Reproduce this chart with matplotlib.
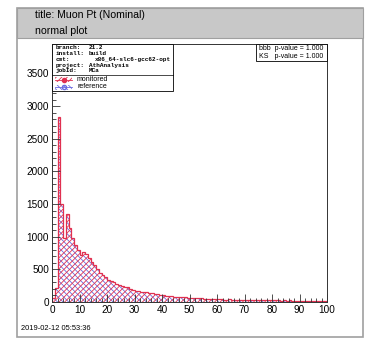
import numpy as np
import matplotlib
matplotlib.use("Agg")
import matplotlib.pyplot as plt
from matplotlib.patches import Rectangle
from matplotlib.lines import Line2D
from matplotlib.ticker import MultipleLocator

# ---- data ----
bin_edges = np.arange(0, 101, 1)
monitored = [60, 220, 2830, 1500, 980, 1350, 1130, 980, 880, 790,
             720, 770, 740, 680, 620, 560, 500, 450, 410, 385,
             340, 320, 300, 275, 258, 245, 235, 225, 200, 185,
             175, 168, 160, 150, 148, 140, 132, 125, 115, 110,
             104, 98, 90, 86, 80, 84, 75, 70, 72, 66,
             62, 68, 60, 55, 58, 50, 48, 46, 50, 42,
             40, 44, 38, 36, 40, 34, 33, 36, 31, 30,
             32, 29, 28, 31, 27, 26, 28, 25, 27, 24,
             26, 23, 25, 22, 24, 21, 23, 22, 20, 22,
             21, 19, 22, 20, 18, 20, 19, 18, 19, 17]
reference = list(monitored)
title_line1 = "title: Muon Pt (Nominal)"
title_line2 = "normal plot"
info_keys = ["branch:", "install:", "cmt:", "project:", "jobId:"]
info_vals = ["21.2", "build", "x86_64-slc6-gcc62-opt", "AthAnalysis", "MCa"]
pvals = ["bbb  p-value = 1.000", "KS   p-value = 1.000"]
legend_labels = ["monitored", "reference"]
timestamp = "2019-02-12 05:53:36"

W, H = 370, 338
fig = plt.figure(figsize=(W / 100, H / 100), dpi=100)
plt.rcParams['hatch.linewidth'] = 0.6
SANS = ["Liberation Sans", "DejaVu Sans"]
MONO = ["Liberation Mono", "DejaVu Sans Mono"]
RED = "#e03050"
BLUE = "#6a6ae0"

def fx(x):
    return x / W

def fy(y):
    return 1 - y / H

# outer canvas frame
fig.patches.append(Rectangle((fx(17), fy(337)), fx(363) - fx(17), fy(8) - fy(337),
                             transform=fig.transFigure, fill=False,
                             edgecolor="#a0a0a0", linewidth=1.2))
# title band
fig.patches.append(Rectangle((fx(17), fy(38)), fx(363) - fx(17), fy(8) - fy(38),
                             transform=fig.transFigure, facecolor="#c8c8c8",
                             edgecolor="#a0a0a0", linewidth=0.8))
fig.text(fx(35), fy(15), title_line1, fontsize=7.6, family=SANS, va="center", ha="left")
fig.text(fx(35), fy(31), title_line2, fontsize=7.6, family=SANS, va="center", ha="left")

# axes
ax_l, ax_r, ax_t, ax_b = 52, 327, 44, 302
ax = fig.add_axes([fx(ax_l), fy(ax_b), fx(ax_r) - fx(ax_l), fy(ax_t) - fy(ax_b)])
ax.set_xlim(0, 100)
ax.set_ylim(0, 3950)

ax.stairs(reference, bin_edges, fill=True, facecolor="none", edgecolor=BLUE,
          hatch="\\\\\\\\\\\\", linewidth=0)
ax.stairs(monitored, bin_edges, fill=True, facecolor="none", edgecolor=RED,
          hatch="//////", linewidth=0)
ax.stairs(monitored, bin_edges, fill=False, color=RED, linewidth=0.9)

ax.xaxis.set_major_locator(MultipleLocator(10))
ax.xaxis.set_minor_locator(MultipleLocator(2))
ax.yaxis.set_major_locator(MultipleLocator(500))
ax.yaxis.set_minor_locator(MultipleLocator(100))
ax.tick_params(which="both", direction="in", top=False, right=False,
               labelsize=7.2, width=0.6, color="#333333")
ax.tick_params(which="major", length=5.5)
ax.tick_params(which="minor", length=2.8)
for lab in ax.get_xticklabels() + ax.get_yticklabels():
    lab.set_family(SANS)
ax.tick_params(axis="x", pad=2)
ax.tick_params(axis="y", pad=2)
for s in ax.spines.values():
    s.set_linewidth(0.7)
    s.set_color("#333333")

# info box
box_l, box_r, box_t, box_sep, box_b = 52, 173, 44, 75, 91
fig.patches.append(Rectangle((fx(box_l), fy(box_b)), fx(box_r) - fx(box_l), fy(box_t) - fy(box_b),
                             transform=fig.transFigure, facecolor="white",
                             edgecolor="black", linewidth=0.6, zorder=5))
fig.add_artist(Line2D([fx(box_l), fx(box_r)], [fy(box_sep), fy(box_sep)],
                      transform=fig.transFigure, color="black", linewidth=0.5, zorder=6))
ys = [47.5, 53.5, 59.5, 65, 70.5]
val_x = [89, 89, 95, 89, 89]
for k, v, y, vx in zip(info_keys, info_vals, ys, val_x):
    fig.text(fx(56), fy(y), k, fontsize=4.3, family=MONO, weight="bold",
             va="center", ha="left", zorder=7)
    fig.text(fx(vx), fy(y), v, fontsize=4.3, family=MONO, weight="bold",
             va="center", ha="left", zorder=7)

# legend entries
leg_y = [79.5, 87]
cols = [(RED, "//////", RED), (BLUE, "\\\\\\\\\\\\", "none")]
for (c, h, mfc), y, lab in zip(cols, leg_y, legend_labels):
    fig.patches.append(Rectangle((fx(55), fy(y + 2.5)), fx(72) - fx(55), fy(y - 2.5) - fy(y + 2.5),
                                 transform=fig.transFigure, facecolor="none",
                                 edgecolor=c, hatch=h, linewidth=0, zorder=7))
    fig.add_artist(Line2D([fx(55), fx(72)], [fy(y), fy(y)], transform=fig.transFigure,
                          color=c, linewidth=0.6, zorder=8))
    fig.add_artist(Line2D([fx(63.5)], [fy(y)], transform=fig.transFigure,
                          color=c, marker="o", markersize=3.0, markerfacecolor=mfc,
                          markeredgecolor=c, linestyle="none", zorder=9))
    fig.text(fx(77), fy(y), lab, fontsize=5, family=SANS, va="center", ha="left", zorder=9)

# p-value box
pb_l, pb_r, pb_t, pb_b = 256, 327, 44, 61
fig.patches.append(Rectangle((fx(pb_l), fy(pb_b)), fx(pb_r) - fx(pb_l), fy(pb_t) - fy(pb_b),
                             transform=fig.transFigure, facecolor="white",
                             edgecolor="black", linewidth=0.6, zorder=5))
fig.text(fx(259), fy(48), pvals[0], fontsize=5, family=SANS, va="center", ha="left", zorder=7)
fig.text(fx(259), fy(56.5), pvals[1], fontsize=5, family=SANS, va="center", ha="left", zorder=7)

fig.text(fx(21), fy(328), timestamp, fontsize=5.4, family=SANS, va="center", ha="left")

fig.savefig("out.png", dpi=100)
